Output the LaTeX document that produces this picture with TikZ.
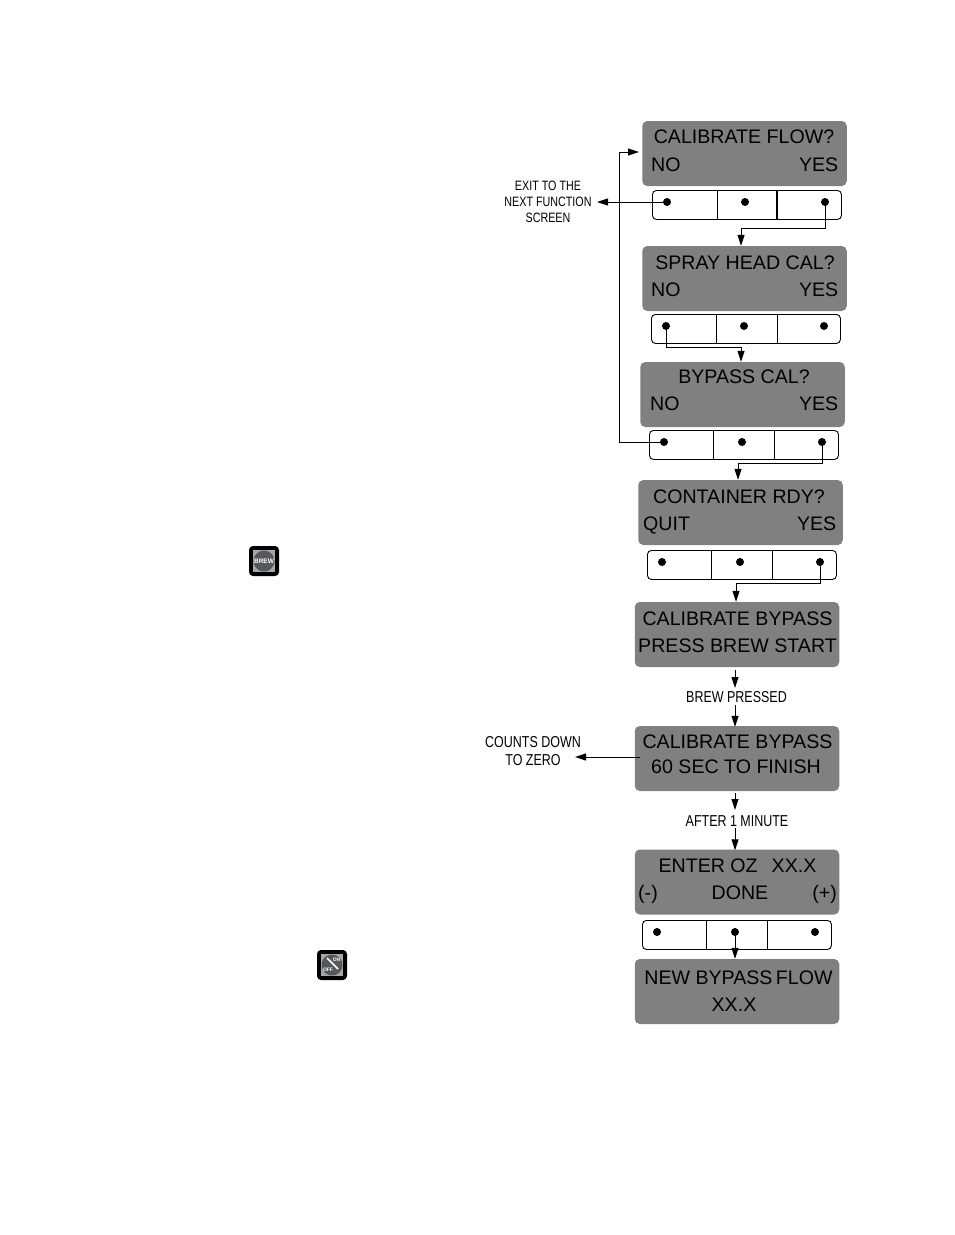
\documentclass[tikz,border=0pt]{standalone}
\usepackage{fontspec}
\usepackage{tikz}
\usetikzlibrary{arrows.meta,positioning}
\setmainfont{Liberation Sans}
\newfontfamily\narrowfont[FakeStretch=0.79]{Liberation Sans}
\definecolor{lcdgray}{HTML}{808080}
\definecolor{icongray}{HTML}{A6A6A6}
\definecolor{icondark}{HTML}{55585C}
\tikzset{
  lcd/.style={fill=lcdgray, rounded corners=5pt, minimum width=204.5pt, minimum height=65pt, inner sep=0pt},
  lcdtext/.style={anchor=base, inner sep=0pt, font=\fontsize{19.6}{22}\selectfont},
  keypad/.style={draw, line width=0.9pt, rounded corners=4pt, minimum width=189pt, minimum height=29pt, inner sep=0pt, anchor=north west},
  keydot/.style={circle, fill, inner sep=0pt, minimum size=8pt},
  flow/.style={line width=1pt, -{Triangle[length=11pt,width=7pt]}},
  note/.style={align=center, inner sep=0pt, font=\narrowfont\fontsize{15.8}{18}\selectfont},
  smallnote/.style={align=center, inner sep=0pt, font=\narrowfont\fontsize{13.6}{16}\selectfont},
  iconbox/.style={fill=black, rounded corners=4pt, minimum size=30pt, inner sep=0pt},
}
\begin{document}
\begin{tikzpicture}[x=1pt,y=-1pt]
\useasboundingbox (0,0) rectangle (954,1235);

% screens
\node[lcd] (scr1) at (744.5,153.5) {};
\node[lcd] (scr2) at (744.5,278.5) {};
\node[lcd] (scr3) at (742.5,394.5) {};
\node[lcd] (scr4) at (740.5,512.5) {};
\node[lcd] (scr5) at (737,634.5) {};
\node[lcd] (scr6) at (737,758.5) {};
\node[lcd] (scr7) at (737,882) {};
\node[lcd] (scr8) at (737,991.5) {};

% screen texts
\node[lcdtext] (t1) at (744,143) {CALIBRATE FLOW?};
\node[lcdtext, anchor=base west] (t1no) at (651,171) {NO};
\node[lcdtext, anchor=base east] (t1yes) at (838.5,171) {YES};
\node[lcdtext] (t2) at (745,269) {SPRAY HEAD CAL?};
\node[lcdtext, anchor=base west] (t2no) at (651,296) {NO};
\node[lcdtext, anchor=base east] (t2yes) at (838.5,296) {YES};
\node[lcdtext] (t3) at (744,383) {BYPASS CAL?};
\node[lcdtext, anchor=base west] (t3no) at (650,410) {NO};
\node[lcdtext, anchor=base east] (t3yes) at (838.5,410) {YES};
\node[lcdtext] (t4) at (739,503) {CONTAINER RDY?};
\node[lcdtext, anchor=base west] (t4quit) at (643,530) {QUIT};
\node[lcdtext, anchor=base east] (t4yes) at (836.5,530) {YES};
\node[lcdtext] (t5) at (737.5,625) {CALIBRATE BYPASS};
\node[lcdtext] (t5b) at (737.5,652) {PRESS BREW START};
\node[lcdtext] (t6) at (737.5,748) {CALIBRATE BYPASS};
\node[lcdtext] (t6b) at (736,773) {60 SEC TO FINISH};
\node[lcdtext] (t7) at (737.5,872) {ENTER OZ\hspace{14pt}XX.X};
\node[lcdtext, anchor=base west] (t7minus) at (638,899) {(-)};
\node[lcdtext] (t7done) at (740,899) {DONE};
\node[lcdtext, anchor=base east] (t7plus) at (837,899) {(+)};
\node[lcdtext] (t8) at (738.5,984) {NEW BYPASS\hspace{-2pt} FLOW};
\node[lcdtext] (t8b) at (734,1011) {XX.X};

% keypads
\foreach \n/\x/\y/\a/\b in {1/652/190/65/125,2/651/314/65/126,3/649/430/64/125,4/647/550/64/125,7/642/920/64/125} {
  \node[keypad] (pad\n) at (\x,\y) {};
  \draw[line width=0.9pt] (\x+\a,\y) -- (\x+\a,\y+29);
  \draw[line width=0.9pt] (\x+\b,\y) -- (\x+\b,\y+29);
  \node[keydot] (dot\n a) at (\x+15,\y+12) {};
  \node[keydot] (dot\n b) at (\x+93,\y+12) {};
  \node[keydot] (dot\n c) at (\x+173,\y+12) {};
}
\draw[line width=1.4pt] ([xshift=125pt]pad1.north west) -- ([xshift=125pt]pad1.south west);

% notes
\node[smallnote] (exit) at (548,202) {EXIT TO THE\\NEXT FUNCTION\\SCREEN};
\node[note] (counts) at (533,751) {COUNTS DOWN\\TO ZERO};
\node[note] (brew) at (736.5,697) {BREW PRESSED};
\node[note] (after) at (737,821) {AFTER 1 MINUTE};

% connectors
\coordinate (exitin) at (597,202);
\coordinate (countsin) at (575,757);
\coordinate (countsout) at (640,757);
\coordinate (loopin) at (639,152);
\coordinate (loopbend) at (619,442);
\coordinate (bend1) at (741,228);
\coordinate (bend2) at (741,347);
\coordinate (bend3) at (738,463);
\coordinate (bend4) at (736,583);
\coordinate (brewup) at (735,670);
\coordinate (brewmid) at (735,688);
\coordinate (brewtop) at (735,705);
\coordinate (afterup) at (735,793);
\coordinate (aftermid) at (735,810);
\coordinate (aftertop) at (735,828);
\draw[flow] (dot1a.center) -- (exitin);
\draw[flow] (dot1c.center) |- (bend1) -- ([xshift=-3.5pt]scr2.north);
\draw[flow] (dot2a.center) |- (bend2) -- ([xshift=-1.5pt]scr3.north);
\draw[flow] (dot3a.center) -- (loopbend) |- (loopin);
\draw[flow] (dot3c.center) |- (bend3) -- ([xshift=-2.5pt]scr4.north);
\draw[flow] (dot4c.center) |- (bend4) -- ([xshift=-1pt]scr5.north);
\draw[flow] (brewup) -- (brewmid);
\draw[flow] (brewtop) -- ([yshift=-1pt,xshift=-2pt]scr6.north);
\draw[flow] (countsout) -- (countsin);
\draw[flow] (afterup) -- (aftermid);
\draw[flow] (aftertop) -- ([xshift=-2pt,yshift=-1pt]scr7.north);
\draw[flow] (dot7b.center) -- ([xshift=-2pt]scr8.north);

% panel icons
\node[iconbox] (brewkey) at (264,561) {};
\node[fill=icongray, minimum size=22pt, inner sep=0pt] (brewplate) at (brewkey) {};
\node[circle, fill=icondark, minimum size=21pt, inner sep=0pt] (brewdisc) at (brewkey) {};
\node[text=white, inner sep=0pt, font=\bfseries\fontsize{6.5}{7}\selectfont] (brewname) at (brewkey) {BREW};

\node[iconbox] (offkey) at (332,965) {};
\node[fill=icongray, minimum size=22pt, inner sep=0pt] (offplate) at (offkey) {};
\node[circle, fill=icondark, minimum size=21pt, inner sep=0pt] (offdisc) at (offkey) {};
\node[text=white, inner sep=0pt, font=\bfseries\fontsize{5}{5}\selectfont] (offon) at (336.5,959.5) {ON};
\node[text=white, inner sep=0pt, font=\bfseries\fontsize{5}{5}\selectfont] (offoff) at (328,969.5) {OFF};
\coordinate (offa) at (327,958);
\coordinate (offb) at (338,969);
\draw[white, line width=1.6pt] (offa) -- (offb);
\end{tikzpicture}
\end{document}
